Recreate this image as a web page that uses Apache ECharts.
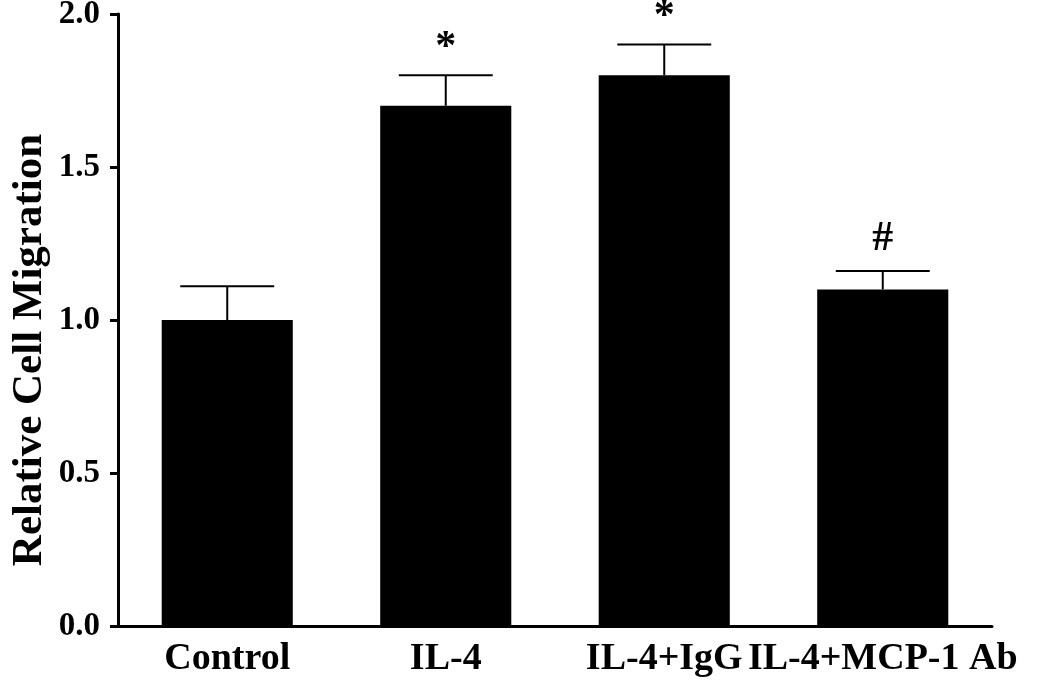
<!DOCTYPE html>
<html>
<head>
<meta charset="utf-8">
<script src="https://cdn.jsdelivr.net/npm/echarts@6/dist/echarts.min.js"></script>
<style>
html,body{margin:0;padding:0;background:#fff;}
#chart{width:1050px;height:689px;}
</style>
</head>
<body>
<div id="chart"></div>
<script>
var categories = ['Control', 'IL-4', 'IL-4+IgG', 'IL-4+MCP-1 Ab'];
var means = [1.0, 1.7, 1.8, 1.1];
var errors = [0.11, 0.10, 0.10, 0.06];
var marks = ['', '*', '*', '#'];
var yTicks = [0, 0.5, 1.0, 1.5, 2.0];

var FONT = '"Liberation Serif", "Times New Roman", serif';

var chart = echarts.init(document.getElementById('chart'), null, {renderer: 'canvas'});

var errData = categories.map(function (c, i) { return [i, means[i], errors[i], marks[i]]; });

chart.setOption({
  animation: false,
  backgroundColor: '#fff',
  grid: {left: 118, right: 58, top: 14, bottom: 63, containLabel: false, outerBoundsMode: 'none'},
  xAxis: {
    type: 'category',
    data: categories,
    axisLine: {lineStyle: {color: '#000', width: 3}},
    axisTick: {show: false},
    axisLabel: {color: '#000', fontFamily: FONT, fontWeight: 'bold', fontSize: 38, margin: 14, interval: 0, hideOverlap: false}
  },
  yAxis: {
    type: 'value',
    min: yTicks[0],
    max: yTicks[yTicks.length - 1],
    interval: yTicks[1] - yTicks[0],
    name: 'Relative Cell Migration',
    nameLocation: 'middle',
    nameRotate: 90,
    nameGap: 67,
    nameMoveOverlap: false,
    nameTextStyle: {color: '#000', fontFamily: FONT, fontWeight: 'bold', fontSize: 43, padding: [0, 60, 0, 0]},
    axisLine: {show: true, lineStyle: {color: '#000', width: 3}},
    axisTick: {show: true, length: 8, lineStyle: {color: '#000', width: 3}},
    splitLine: {show: false},
    axisLabel: {
      color: '#000', fontFamily: FONT, fontWeight: 'bold', fontSize: 33, margin: 18,
      formatter: function (v) { return v.toFixed(1); }
    }
  },
  series: [
    {
      type: 'bar',
      data: means,
      barCategoryGap: '40%',
      itemStyle: {color: '#000'},
      z: 2
    },
    {
      type: 'custom',
      data: errData,
      z: 3,
      renderItem: function (params, api) {
        var x = api.value(0);
        var m = api.value(1);
        var e = api.value(2);
        var mark = api.value(3);
        var base = api.coord([x, m]);
        var top = api.coord([x, m + e]);
        var band = api.size([1, 0])[0];
        var half = band * 0.215;
        var children = [
          {type: 'line', shape: {x1: top[0], y1: top[1], x2: base[0], y2: base[1]}, style: {stroke: '#000', lineWidth: 2}},
          {type: 'line', shape: {x1: top[0] - half, y1: top[1], x2: top[0] + half, y2: top[1]}, style: {stroke: '#000', lineWidth: 2}}
        ];
        if (mark) {
          children.push({
            type: 'text',
            x: top[0],
            y: top[1] - (mark === '*' ? 6 : 11),
            style: {text: mark, fill: '#000', font: 'bold 42px ' + FONT, align: 'center', verticalAlign: 'bottom'}
          });
        }
        return {type: 'group', children: children};
      }
    }
  ]
});
</script>
</body>
</html>
